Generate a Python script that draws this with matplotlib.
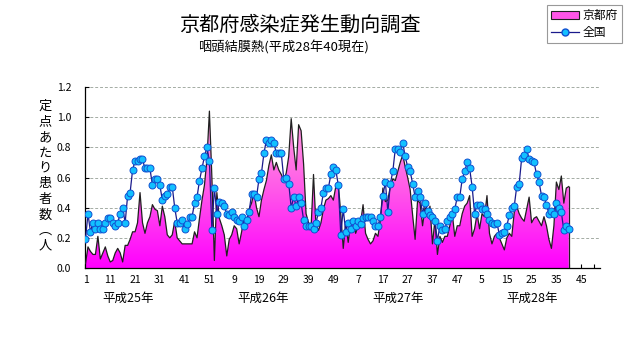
import matplotlib
matplotlib.use("Agg")
import matplotlib.pyplot as plt
import numpy as np
from matplotlib.colors import LinearSegmentedColormap
from matplotlib.patches import Patch
from matplotlib.lines import Line2D

plt.rcParams['font.family'] = ['Noto Sans CJK JP', 'DejaVu Sans']

# 定点あたり患者数（週別）: 京都府
kyoto_h25 = [0.03, 0.14, 0.11, 0.09, 0.09, 0.21, 0.06, 0.10, 0.14, 0.08,
             0.04, 0.05, 0.10, 0.13, 0.10, 0.04, 0.15, 0.15, 0.19, 0.24,
             0.24, 0.30, 0.50, 0.30, 0.23, 0.30, 0.34, 0.42, 0.39, 0.38,
             0.28, 0.41, 0.34, 0.22, 0.20, 0.22, 0.31, 0.20, 0.18, 0.16,
             0.16, 0.16, 0.16, 0.16, 0.24, 0.20, 0.33, 0.45, 0.55, 0.72,
             1.04, 0.60]
kyoto_h26 = [0.05, 0.50, 0.33, 0.28, 0.22, 0.08, 0.19, 0.22, 0.28, 0.26,
             0.16, 0.24, 0.34, 0.30, 0.39, 0.43, 0.50, 0.40, 0.34, 0.45,
             0.52, 0.58, 0.68, 0.75, 0.65, 0.70, 0.65, 0.62, 0.58, 0.63,
             0.74, 0.99, 0.80, 0.65, 0.95, 0.91, 0.69, 0.36, 0.30, 0.26,
             0.62, 0.28, 0.25, 0.30, 0.39, 0.45, 0.46, 0.48, 0.45, 0.54,
             0.56, 0.36]
kyoto_h27 = [0.13, 0.30, 0.17, 0.30, 0.32, 0.23, 0.28, 0.30, 0.42, 0.23,
             0.19, 0.16, 0.18, 0.23, 0.21, 0.32, 0.53, 0.44, 0.45, 0.54,
             0.59, 0.58, 0.64, 0.70, 0.75, 0.67, 0.60, 0.52, 0.35, 0.19,
             0.45, 0.43, 0.28, 0.40, 0.36, 0.41, 0.16, 0.32, 0.09, 0.21,
             0.17, 0.21, 0.21, 0.28, 0.36, 0.21, 0.28, 0.28, 0.36, 0.41,
             0.43, 0.48]
kyoto_h28 = [0.21, 0.26, 0.36, 0.26, 0.36, 0.34, 0.48, 0.23, 0.16, 0.21,
             0.23, 0.20, 0.16, 0.12, 0.20, 0.23, 0.21, 0.37, 0.41, 0.36,
             0.33, 0.31, 0.39, 0.47, 0.30, 0.33, 0.34, 0.31, 0.28, 0.34,
             0.28, 0.19, 0.13, 0.28, 0.57, 0.52, 0.61, 0.43, 0.53, 0.54]

# 全国
zenkoku_h25 = [0.19, 0.36, 0.24, 0.30, 0.26, 0.30, 0.26, 0.26, 0.30, 0.33,
               0.33, 0.30, 0.28, 0.30, 0.36, 0.40, 0.30, 0.48, 0.50, 0.65,
               0.71, 0.71, 0.72, 0.72, 0.66, 0.66, 0.66, 0.55, 0.59, 0.59,
               0.55, 0.45, 0.48, 0.49, 0.54, 0.54, 0.40, 0.30, 0.30, 0.32,
               0.26, 0.29, 0.34, 0.34, 0.43, 0.47, 0.58, 0.66, 0.74, 0.80,
               0.71, 0.25]
zenkoku_h26 = [0.53, 0.36, 0.44, 0.43, 0.41, 0.36, 0.35, 0.37, 0.34, 0.32,
               0.31, 0.34, 0.28, 0.32, 0.37, 0.49, 0.49, 0.47, 0.59, 0.63,
               0.76, 0.85, 0.83, 0.85, 0.83, 0.76, 0.76, 0.76, 0.59, 0.60,
               0.56, 0.40, 0.47, 0.41, 0.47, 0.43, 0.32, 0.28, 0.28, 0.28,
               0.26, 0.30, 0.37, 0.40, 0.50, 0.53, 0.53, 0.62, 0.67, 0.65,
               0.55, 0.22]
zenkoku_h27 = [0.39, 0.24, 0.30, 0.26, 0.31, 0.28, 0.31, 0.29, 0.33, 0.34,
               0.34, 0.34, 0.31, 0.28, 0.28, 0.34, 0.48, 0.57, 0.37, 0.56,
               0.64, 0.79, 0.79, 0.77, 0.83, 0.74, 0.67, 0.64, 0.56, 0.47,
               0.51, 0.47, 0.36, 0.43, 0.38, 0.35, 0.34, 0.31, 0.18, 0.28,
               0.25, 0.26, 0.31, 0.34, 0.36, 0.39, 0.47, 0.47, 0.59, 0.64,
               0.70, 0.66]
zenkoku_h28 = [0.54, 0.36, 0.42, 0.42, 0.39, 0.39, 0.36, 0.32, 0.30, 0.29,
               0.30, 0.22, 0.23, 0.24, 0.28, 0.35, 0.40, 0.41, 0.54, 0.56,
               0.73, 0.75, 0.79, 0.72, 0.71, 0.70, 0.62, 0.57, 0.48, 0.47,
               0.42, 0.36, 0.38, 0.36, 0.43, 0.40, 0.37, 0.25, 0.28, 0.26]

week_labels = ['1', '11', '21', '31', '41', '51', '9', '19', '29', '39', '49',
               '7', '17', '27', '37', '47', '5', '15', '25', '35', '45']
year_labels = ['平成25年', '平成26年', '平成27年', '平成28年']
year_label_pos = [18, 72.5, 127, 181]
n_weeks = 208

kyoto = np.array(kyoto_h25 + kyoto_h26 + kyoto_h27 + kyoto_h28)
zenkoku = np.array(zenkoku_h25 + zenkoku_h26 + zenkoku_h27 + zenkoku_h28)
x = np.arange(1, len(kyoto) + 1)

fig = plt.figure(figsize=(6.31, 3.47), dpi=100)
ax = fig.add_axes([85 / 631, 1 - 268 / 347, 515 / 631, 181 / 347])

# 京都府: グラデーション塗りの面グラフ
cmap = LinearSegmentedColormap.from_list('pinkgrad', ['#ff00ff', '#ff5ce8', '#ffa8dc'])
grad = np.linspace(0, 1, 256).reshape(-1, 1)
img = ax.imshow(grad, extent=[x[0], x[-1], 0, 1.08], origin='lower', aspect='auto',
                cmap=cmap, zorder=2, interpolation='bilinear')
area = ax.fill_between(x, kyoto, 0, facecolor='none', edgecolor='none')
img.set_clip_path(area.get_paths()[0], transform=ax.transData)
ax.plot(x, kyoto, color='#202020', lw=0.9, zorder=3)
ax.plot([x[-1], x[-1]], [0, kyoto[-1]], color='#202020', lw=0.9, zorder=3)

# 全国: 折れ線＋マーカー
ax.plot(x, zenkoku, color='#1a1a8c', lw=0.9, marker='o', markersize=5,
        markerfacecolor='#12c0ff', markeredgecolor='#1050d0', markeredgewidth=0.7,
        zorder=4)

ax.set_xlim(0.8, n_weeks + 0.6)
ax.set_ylim(0, 1.2)

ax.set_yticks(np.arange(0, 1.21, 0.2))
ax.set_yticklabels([f'{v:.1f}' for v in np.arange(0, 1.21, 0.2)], fontsize=7.5)
ax.set_xticks(np.arange(1, n_weeks, 10))
ax.set_xticklabels(week_labels, fontsize=7.5)
ax.set_xticks(np.arange(6, n_weeks + 1, 10), minor=True)
ax.tick_params(axis='both', which='both', direction='in', length=3, width=0.8)
ax.tick_params(axis='y', pad=10)
ax.tick_params(axis='x', pad=5)

for s in ['top', 'right']:
    ax.spines[s].set_visible(False)
for s in ['left', 'bottom']:
    ax.spines[s].set_linewidth(0.9)

for v in np.arange(0.2, 1.21, 0.2):
    ax.axhline(v, color='#a4aca4', lw=0.7, ls=(0, (3, 2)), zorder=1)

for lbl, pos in zip(year_labels, year_label_pos):
    ax.text(pos, -0.165, lbl, transform=ax.get_xaxis_transform(),
            ha='center', va='center', fontsize=9)

fig.text(45 / 631, 1 - 100 / 347, '\n'.join('定点あたり患者数︵人'),
         ha='center', va='top', fontsize=9.5, linespacing=1.25)

fig.text(300 / 631, 1 - 25 / 347, '京都府感染症発生動向調査',
         ha='center', va='center', fontsize=14.5)
fig.text(283 / 631, 1 - 48 / 347, '咽頭結膜熱(平成28年40現在)',
         ha='center', va='center', fontsize=9.5)

handles = [Patch(facecolor='#ff55e8', edgecolor='#202020', linewidth=0.8),
           Line2D([], [], color='#1a1a8c', lw=0.9, marker='o', markersize=5,
                  markerfacecolor='#12c0ff', markeredgecolor='#1050d0')]
leg = fig.legend(handles, ['京都府', '全国'], loc='upper right',
                 bbox_to_anchor=(622 / 631, 1 - 5 / 347), fontsize=8.5,
                 frameon=True, fancybox=False, edgecolor='#808080',
                 handlelength=2.4, handleheight=0.6, borderpad=0.35,
                 labelspacing=0.35, handletextpad=0.3, borderaxespad=0)
leg.get_frame().set_linewidth(0.8)

fig.savefig('out.png', dpi=100)
